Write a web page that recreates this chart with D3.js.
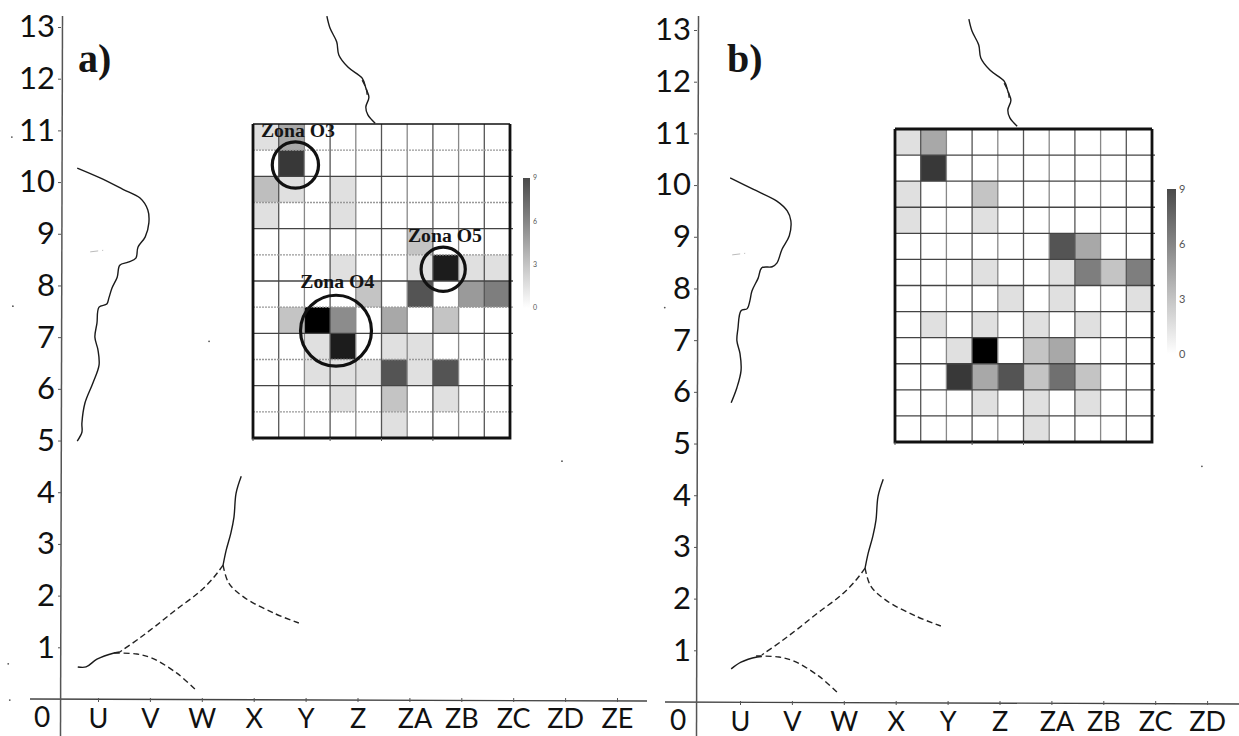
<!DOCTYPE html>
<html>
<head>
<meta charset="utf-8">
<script src="https://cdnjs.cloudflare.com/ajax/libs/d3/7.8.5/d3.min.js"></script>
<style>
  html, body { margin: 0; padding: 0; background: #fff; }
  svg { display: block; }
  .tick-label { font-family: Lato, "Open Sans", sans-serif; fill: #111; }
  .serif { font-family: "Liberation Serif", serif; font-weight: bold; fill: #151515; }
</style>
</head>
<body>
<div id="chart"></div>
<script>
// Longitude labels along the bottom, latitude labels up the side
const lonLabels = ['U', 'V', 'W', 'X', 'Y', 'Z', 'ZA', 'ZB', 'ZC', 'ZD', 'ZE'];
const lonLabelsB = ['U', 'V', 'W', 'X', 'Y', 'Z', 'ZA', 'ZB', 'ZC', 'ZD'];
const latValues = [1, 2, 3, 4, 5, 6, 7, 8, 9, 10, 11, 12, 13];
const legendValues = [0, 3, 6, 9];

// Cell counts, top row first. 10 columns, 12 rows
const gridA = [
  [1, 3, 0, 0, 0, 0, 0, 0, 0, 0],
  [0, 7, 0, 0, 0, 0, 0, 0, 0, 0],
  [2.2, 1, 0, 1, 0, 0, 0, 0, 0, 0],
  [1, 0, 0, 1, 0, 0, 0, 0, 0, 0],
  [0, 0, 0, 0, 0, 0, 2, 0, 0, 0],
  [0, 0, 0, 1, 0, 0, 1, 8, 1, 1],
  [0, 0, 0, 0, 2, 0, 6, 0, 3.5, 4.5],
  [0, 2, 9, 4, 0, 3, 0, 2, 0, 0],
  [0, 0, 1, 8, 0, 1, 1, 0, 0, 0],
  [0, 0, 1, 1, 1, 6, 1, 6, 0, 0],
  [0, 0, 0, 1, 0, 2, 0, 1, 0, 0],
  [0, 0, 0, 0, 0, 1, 0, 0, 0, 0]
];
const gridB = [
  [1, 3, 0, 0, 0, 0, 0, 0, 0, 0],
  [0, 7, 0, 0, 0, 0, 0, 0, 0, 0],
  [1, 0, 0, 2, 0, 0, 0, 0, 0, 0],
  [1, 0, 0, 1, 0, 0, 0, 0, 0, 0],
  [0, 0, 0, 0, 0, 0, 6, 3, 0, 0],
  [0, 0, 0, 1, 0, 0, 1, 4.5, 2, 4.5],
  [0, 0, 0, 0, 1, 0, 1, 0, 0, 1],
  [0, 1, 0, 1, 0, 1, 0, 1, 0, 0],
  [0, 0, 1, 9, 0, 2, 3, 0, 0, 0],
  [0, 0, 7, 3, 6, 2, 5, 2, 0, 0],
  [0, 0, 0, 1, 0, 1, 0, 1, 0, 0],
  [0, 0, 0, 0, 0, 1, 0, 0, 0, 0]
];

// Coast outlines, [lon index from U, latitude]
const coastNorth = [[4.41,13.21],[4.47,12.98],[4.60,12.71],[4.64,12.46],[4.82,12.22],[5.09,12.01],[5.16,11.82],[5.22,11.64],[5.16,11.45],[5.20,11.30],[5.34,11.14]];
const coastNorthDash = [[5.09,11.97],[5.17,11.80],[5.19,11.62]];
const coastMidA = [[-.40,10.27],[.04,10.08],[.48,9.86],[.81,9.69],[.96,9.46],[.98,9.21],[.91,8.94],[.77,8.74],[.73,8.53],[.58,8.45],[.42,8.39],[.37,8.16],[.27,7.95],[.21,7.76],[.17,7.64],[.02,7.58],[-.02,7.27],[-.06,7.0],[0,6.75],[.02,6.46],[-.10,6.11],[-.25,5.73],[-.31,5.34],[-.31,5.16],[-.40,4.99]];
const coastMidB = [[-.19,10.14],[.25,9.92],[.71,9.69],[.91,9.50],[.98,9.31],[.95,9.02],[.81,8.76],[.71,8.49],[.62,8.42],[.42,8.40],[.35,8.20],[.23,7.95],[.19,7.76],[.14,7.61],[.02,7.57],[-.04,7.22],[-.06,6.99],[0,6.74],[.02,6.41],[-.06,6.08],[-.17,5.79]];
const coastSouth = [[2.76,4.31],[2.66,3.98],[2.62,3.52],[2.56,3.21],[2.47,2.88],[2.41,2.59]];
const dashEast = [[2.41,2.59],[2.22,2.34],[1.93,2.05],[1.52,1.74],[1.12,1.42],[.79,1.17],[.42,.91]];
const dashSouthEast = [[2.41,2.59],[2.52,2.24],[2.81,1.97],[3.39,1.66],[3.87,1.47]];
const dashLower = [[.31,.89],[.75,.87],[1.04,.79],[1.52,.50],[1.89,.17]];
const coastSouthWestA = [[-.39,.62],[-.23,.62],[-.02,.77],[.31,.89],[.42,.91]];
const coastSouthWestB = [[-.17,.64],[.02,.77],[.33,.87],[.42,.88]];
const smudge = [[-.15,8.65],[.1,8.68]];
// stray specks of the scan
const specksA = [[-1.66,10.87],[-1.64,7.6],[2.14,6.92],[-1.73,.68],[-1.70,-.02],[8.94,4.6]];
const specksB = [[-1.45,7.63],[8.9,4.56]];

// Zones marked on panel a: name, ring centre and radius in cells
const zoneNames = ['Zona O3', 'Zona O4', 'Zona O5'];
const zoneRings = [[1.65, 1.57, 0.9], [3.23, 7.9, 1.38], [7.4, 5.55, 0.86]];
const zoneText = [[0.31, 0.5], [1.84, 6.27], [6.03, 4.5]];

const width = 1239, height = 736;
const svg = d3.select('#chart').append('svg').attr('width', width).attr('height', height);

// darkness of a cell, 0 white, 1 the pale grey, 9 black
const cellColor = d3.scaleLinear().domain([0, 1, 9]).range(['#ffffff', '#e0e0e0', '#000000']);

const lineGen = (x, y) => d3.line().x(d => x(d[0])).y(d => y(d[1])).curve(d3.curveCatmullRom);

function drawPanel(opt) {
  const g = svg.append('g');
  const x = d3.scaleLinear().domain([0, 10]).range([opt.x0, opt.x0 + 519]);
  const y = d3.scaleLinear().domain([0, 13]).range([opt.y0, opt.y0 - 672]);

  // ****************** heat grid ***************************
  const cols = d3.range(10), rows = d3.range(12);
  const gx = d3.scaleBand().domain(cols).range(opt.gridX);
  const gy = d3.scaleBand().domain(rows).range(opt.gridY);

  const cells = [];
  opt.grid.forEach((row, r) => row.forEach((v, c) => cells.push({ r, c, v })));
  g.selectAll('rect.cell').data(cells.filter(d => d.v > 0)).enter().append('rect')
    .attr('class', 'cell')
    .attr('x', d => gx(d.c)).attr('y', d => gy(d.r))
    .attr('width', gx.bandwidth()).attr('height', gy.bandwidth())
    .attr('fill', d => cellColor(d.v));

  // vertical lines, alternating grey
  g.selectAll('line.v').data(d3.range(1, 10)).enter().append('line')
    .attr('x1', d => gx(d)).attr('x2', d => gx(d))
    .attr('y1', opt.gridY[0]).attr('y2', opt.gridY[1])
    .attr('stroke', d => d % 2 ? '#555' : '#888').attr('stroke-width', 1.3);

  g.selectAll('line.h').data(d3.range(1, 12)).enter().append('line')
    .attr('x1', opt.gridX[0]).attr('x2', opt.gridX[1] + 3)
    .attr('y1', d => gy(d)).attr('y2', d => gy(d))
    .attr('stroke', d => (d % 2 && opt.dotted) ? '#999' : '#444')
    .attr('stroke-dasharray', d => (d % 2 && opt.dotted) ? '2,1' : null)
    .attr('stroke-width', 1.3);

  // frame
  const frame = d3.path();
  frame.moveTo(opt.gridX[0], opt.gridY[0]);
  frame.lineTo(opt.gridX[0], opt.gridY[1]);
  frame.lineTo(opt.gridX[1], opt.gridY[1]);
  frame.lineTo(opt.gridX[1], opt.gridY[0]);
  g.append('path').attr('d', frame.toString()).attr('fill', 'none').attr('stroke', '#111').attr('stroke-width', 2.8);
  g.append('line')
    .attr('x1', opt.gridX[0]).attr('x2', opt.gridX[1])
    .attr('y1', opt.gridY[0]).attr('y2', opt.gridY[0])
    .attr('stroke', '#111').attr('stroke-width', opt.topWidth);

  // small ticks under the grid
  g.selectAll('line.gt').data(opt.gridTicks).enter().append('line')
    .attr('x1', d => gx(d)).attr('x2', d => gx(d))
    .attr('y1', opt.gridY[1]).attr('y2', opt.gridY[1] + 3)
    .attr('stroke', '#555').attr('stroke-width', 1);

  // ****************** coast ***************************
  const line = lineGen(x, y);
  const solid = [coastNorth, opt.coastMid, coastSouth, opt.coastSouthWest];
  g.selectAll('path.coast').data(solid).enter().append('path')
    .attr('class', 'coast').attr('d', line)
    .attr('fill', 'none').attr('stroke', '#1a1a1a').attr('stroke-width', 1.4);
  g.selectAll('path.dash').data([dashEast, dashSouthEast, dashLower, coastNorthDash]).enter().append('path')
    .attr('class', 'dash').attr('d', line)
    .attr('fill', 'none').attr('stroke', '#222').attr('stroke-width', 1.4)
    .attr('stroke-dasharray', '6,3.5');
  g.append('path').attr('d', line(smudge)).attr('fill', 'none')
    .attr('stroke', '#bbb').attr('stroke-width', 1).attr('stroke-dasharray', '8,4');
  g.selectAll('circle.speck').data(opt.specks).enter().append('circle')
    .attr('cx', d => x(d[0])).attr('cy', d => y(d[1])).attr('r', 0.9).attr('fill', '#555');

  // ****************** axes ***************************
  const xAxis = d3.axisBottom(x)
    .tickValues(d3.range(opt.lon.length))
    .tickFormat(i => opt.lon[i])
    .tickSize(3).tickPadding(7);
  const gxAxis = g.append('g').attr('transform', `translate(0,${opt.y0})`).call(xAxis);
  gxAxis.select('.domain').attr('d', `M${opt.axisLeft},0L${opt.axisRight},2`).attr('stroke', '#444').attr('stroke-width', 1.3);
  gxAxis.selectAll('line').attr('stroke', '#555').attr('y1', -1);
  gxAxis.selectAll('text').attr('class', 'tick-label').style('font-size', '27px').attr('fill', null)
    .attr('dx', (d, i) => opt.lon[i] === 'ZA' ? 5 : 0);

  const yAxis = d3.axisLeft(y).tickValues(latValues).tickFormat(d3.format('d')).tickSize(3).tickPadding(3);
  const gyAxis = g.append('g').attr('transform', `translate(${opt.axisX},0)`).call(yAxis);
  gyAxis.select('.domain').attr('d', `M1.5,16L-0.5,${height}`).attr('stroke', '#555').attr('stroke-width', 1.5);
  gyAxis.selectAll('line').attr('stroke', '#555');
  gyAxis.selectAll('text').attr('class', 'tick-label').style('font-size', '31px').attr('fill', null);

  g.append('text').attr('class', 'tick-label').attr('x', opt.axisX - 19).attr('y', opt.y0 + 28)
    .attr('text-anchor', 'middle').style('font-size', '28px').text('0');

  g.append('text').attr('class', 'serif').attr('x', opt.titleX).attr('y', 72)
    .style('font-size', '40px').text(opt.title);

  // ****************** colour bar ***************************
  const barY = d3.scaleLinear().domain([0, 9]).range(opt.barY);
  const gradId = 'bar' + opt.title[0];
  const grad = g.append('linearGradient').attr('id', gradId)
    .attr('x1', 0).attr('x2', 0).attr('y1', 1).attr('y2', 0);
  grad.selectAll('stop').data(legendValues).enter().append('stop')
    .attr('offset', d => d / 9)
    .attr('stop-color', d3.scaleLinear().domain(legendValues).range(['#ffffff', '#c4c4c4', '#858585', '#4a4a4a']));
  g.append('rect')
    .attr('x', opt.barX).attr('width', opt.barW)
    .attr('y', barY(9)).attr('height', barY(0) - barY(9))
    .attr('fill', `url(#${gradId})`);
  g.selectAll('text.bar').data(legendValues).enter().append('text')
    .attr('x', opt.barX + opt.barW + 3).attr('y', d => barY(d))
    .attr('dy', '0.35em')
    .style('font-family', 'Lato, sans-serif').style('font-size', opt.barFont + 'px')
    .attr('fill', '#555').text(d => d);

  return { g, gx, gy };
}

const a = drawPanel({
  title: 'a)', titleX: 78, grid: gridA, coastMid: coastMidA, coastSouthWest: coastSouthWestA,
  lon: lonLabels, specks: specksA,
  x0: 98, y0: 699, axisX: 61, axisLeft: 30, axisRight: 647,
  gridX: [253, 510], gridY: [124, 438], topWidth: 1.4, dotted: true,
  gridTicks: [0, 3, 5, 7],
  barX: 523, barW: 7, barY: [308, 178], barFont: 7
});

drawPanel({
  title: 'b)', titleX: 727, grid: gridB, coastMid: coastMidB, coastSouthWest: coastSouthWestB,
  lon: lonLabelsB, specks: specksB,
  x0: 740, y0: 702, axisX: 697, axisLeft: 665, axisRight: 1239,
  gridX: [895, 1152], gridY: [129, 442], topWidth: 3, dotted: false,
  gridTicks: [0, 3, 5],
  barX: 1167, barW: 9, barY: [354, 189], barFont: 11
});

// zone rings and their names sit on top of panel a
const ringX = i => a.gx(0) + i * a.gx.bandwidth();
const ringY = i => a.gy(0) + i * a.gy.bandwidth();
a.g.selectAll('circle.zone').data(zoneRings).enter().append('circle')
  .attr('class', 'zone')
  .attr('cx', d => ringX(d[0])).attr('cy', d => ringY(d[1])).attr('r', d => d[2] * a.gx.bandwidth())
  .attr('fill', 'none').attr('stroke', '#111').attr('stroke-width', 3.2);
a.g.selectAll('text.zone').data(zoneNames).enter().append('text')
  .attr('class', 'serif')
  .attr('x', (d, i) => ringX(zoneText[i][0])).attr('y', (d, i) => ringY(zoneText[i][1]))
  .attr('textLength', 74).attr('lengthAdjust', 'spacingAndGlyphs')
  .style('font-size', '18px').text(d => d);
</script>
</body>
</html>
